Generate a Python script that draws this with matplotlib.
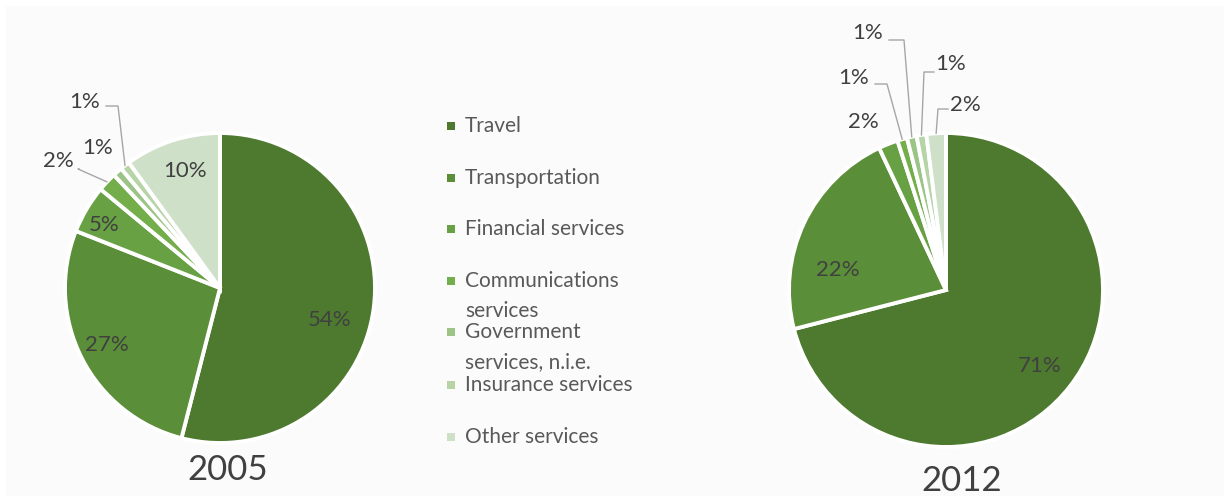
import matplotlib
matplotlib.use("Agg")
import matplotlib.pyplot as plt
from matplotlib.patches import Rectangle
import numpy as np

plt.rcParams['font.family'] = ['Lato', 'DejaVu Sans']

categories = ["Travel", "Transportation", "Financial services",
              "Communications\nservices", "Government\nservices, n.i.e.",
              "Insurance services", "Other services"]
values_2005 = [54, 27, 5, 2, 1, 1, 10]
values_2012 = [71, 22, 2, 1, 1, 1, 2]
years = ["2005", "2012"]
colors = ["#4e7a2f", "#5a8e38", "#68a044", "#73ae4b", "#9cc487", "#b6d4a6", "#cfe0c8"]

W, H = 1230, 500
fig = plt.figure(figsize=(W / 100, H / 100), dpi=100, facecolor="white")
ax = fig.add_axes([0, 0, 1, 1])

def Y(y):
    return H - y

TXT = "#404040"

ax.add_patch(Rectangle((6, 4), W - 12, H - 10, facecolor="#fbfbfb", edgecolor="none", zorder=0))

pies = [
    dict(vals=values_2005, center=(220, 288), r=155, title_pos=(228, 470),
         inside={0: (330, 320), 1: (107, 345), 2: (104, 225), 6: (185, 171)},
         outside={3: [(58, 161), (78, 169)], 4: [(98, 148), None], 5: [(85, 102), (118, 106)]}),
    dict(vals=values_2012, center=(946, 290), r=157, title_pos=(962, 481),
         inside={0: (1040, 366), 1: (838, 270)},
         outside={2: [(863, 122), None], 3: [(854, 78), (887, 84)], 4: [(868, 33), (904, 40)],
                  5: [(951, 64), (924, 72)], 6: [(965, 105), (938, 109)]}),
]

for p, yr in zip(pies, years):
    cx, cy = p["center"]
    r = p["r"]
    ax.pie(p["vals"], colors=colors, startangle=90, counterclock=False,
           center=(cx, Y(cy)), radius=r,
           wedgeprops=dict(edgecolor="white", linewidth=2.8))
    vals = np.array(p["vals"], dtype=float)
    cum = np.cumsum(vals) - vals / 2
    mids = cum / vals.sum() * 360.0
    for i, (tx, ty) in p["inside"].items():
        ax.text(tx, Y(ty), f"{p['vals'][i]}%", ha="center", va="center",
                fontsize=16, color=TXT)
    for i, (tpos, elbow) in p["outside"].items():
        tx, ty = tpos
        ax.text(tx, Y(ty), f"{p['vals'][i]}%", ha="center", va="center",
                fontsize=16, color=TXT)
        if elbow is not None:
            th = np.deg2rad(mids[i])
            ex = cx + r * np.sin(th)
            ey = cy - r * np.cos(th)
            bx, by = elbow
            hx = tx + 21 if bx > tx else tx - 17
            ax.plot([hx, bx, ex], [Y(by), Y(by), Y(ey)], color="#a6a6a6", lw=1.0)
    ax.text(p["title_pos"][0], Y(p["title_pos"][1]), yr, ha="center", va="center",
            fontsize=25, color=TXT)

# legend
leg_y = [126, 178, 229, 281, 332, 385, 437]
for c, lab, ly in zip(colors, categories, leg_y):
    ax.add_patch(Rectangle((447, Y(ly) - 4), 8, 8, facecolor=c, edgecolor="none"))
    for k, line in enumerate(lab.split("\n")):
        ax.text(465, Y(ly + 30 * k), line, ha="left", va="center", fontsize=15,
                color="#595959")

ax.set_xlim(0, W)
ax.set_ylim(0, H)
ax.set_aspect("auto")
ax.axis("off")
fig.savefig("out.png", dpi=100, facecolor="white")
